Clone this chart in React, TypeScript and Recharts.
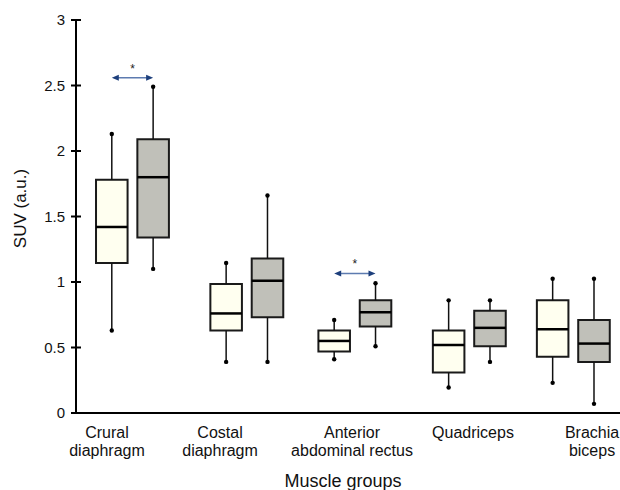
import { ComposedChart, ReferenceArea, ReferenceLine, Scatter, XAxis, YAxis } from "recharts";

// muscle groups, one entry per label line
const muscleGroups = [
  ["Crural", "diaphragm"],
  ["Costal", "diaphragm"],
  ["Anterior", "abdominal rectus"],
  ["Quadriceps"],
  ["Brachia", "biceps"]
];

// light boxes (first series)
const lightMin = [0.63, 0.39, 0.41, 0.195, 0.23];
const lightQ1 = [1.145, 0.63, 0.47, 0.31, 0.43];
const lightMedian = [1.42, 0.76, 0.55, 0.52, 0.64];
const lightQ3 = [1.78, 0.985, 0.63, 0.63, 0.86];
const lightMax = [2.13, 1.145, 0.71, 0.86, 1.025];

// grey boxes (second series)
const greyMin = [1.1, 0.39, 0.51, 0.39, 0.07];
const greyQ1 = [1.34, 0.73, 0.66, 0.51, 0.39];
const greyMedian = [1.8, 1.01, 0.77, 0.65, 0.53];
const greyQ3 = [2.09, 1.18, 0.86, 0.78, 0.71];
const greyMax = [2.49, 1.66, 0.99, 0.86, 1.025];

// significant differences (*), group index and bracket level
const significantGroups = [0, 2];
const significanceLevel = [2.56, 1.065];

const yTicks = [0, 0.5, 1, 1.5, 2, 2.5, 3];

// layout on the numeric x axis (0..5)
const groupCenters = [0.519, 1.57, 2.563, 3.615, 4.571];
const labelCenters = [0.285, 1.324, 2.537, 3.649, 4.743];
const BOX_OFFSET = 0.19;
const BOX_HALF = 0.145;

const series = [
  { name: "light", fill: "#fffff0", min: lightMin, q1: lightQ1, median: lightMedian, q3: lightQ3, max: lightMax, side: -1 },
  { name: "grey", fill: "#c0c0b9", min: greyMin, q1: greyQ1, median: greyMedian, q3: greyQ3, max: greyMax, side: 1 }
];

const whiskerEnds = series.flatMap((s) =>
  groupCenters.flatMap((c, i) => [
    { x: c + s.side * BOX_OFFSET, y: s.min[i] },
    { x: c + s.side * BOX_OFFSET, y: s.max[i] }
  ])
);

const CategoryTick = (props: any) => {
  const { x, y, index } = props;
  const lines = muscleGroups[index] || [];
  return (
    <text x={x} y={y} textAnchor="middle" fontSize={16} fill="#111">
      {lines.map((line, i) => (
        <tspan key={i} x={x} dy={i === 0 ? 25 : 18}>
          {line}
        </tspan>
      ))}
    </text>
  );
};

const DoubleArrow = (props: any) => {
  const { x1, y1, x2, y2 } = props;
  const head = "#1d3f7c";
  return (
    <g>
      <line x1={x1 + 4} y1={y1} x2={x2 - 4} y2={y2} stroke="#5d7bb0" strokeWidth={1.5} />
      <polygon points={`${x1},${y1} ${x1 + 7},${y1 - 3} ${x1 + 7},${y1 + 3}`} fill={head} />
      <polygon points={`${x2},${y2} ${x2 - 7},${y2 - 3} ${x2 - 7},${y2 + 3}`} fill={head} />
    </g>
  );
};

export default function App() {
  return (
    <div style={{ position: "absolute", left: 0, top: 0, fontFamily: '"Liberation Sans", Arial, sans-serif' }}>
      <ComposedChart width={620} height={490} margin={{ top: 20, right: 0, bottom: 0, left: 0 }}>
        <XAxis
          type="number"
          dataKey="x"
          domain={[0, 5]}
          allowDataOverflow
          ticks={labelCenters}
          interval={0}
          tick={<CategoryTick />}
          tickLine={false}
          tickSize={0}
          tickMargin={0}
          height={77}
          axisLine={{ stroke: "#000", strokeWidth: 2 }}
          label={{ value: "Muscle groups", position: "insideBottom", offset: 3, dx: -5, fontSize: 18, fill: "#111" }}
        />
        <YAxis
          type="number"
          dataKey="y"
          domain={[0, 3]}
          ticks={yTicks}
          interval={0}
          width={76}
          tickSize={10}
          tickMargin={1}
          tick={{ fill: "#111", fontSize: 15 }}
          tickLine={{ stroke: "#000", strokeWidth: 2, transform: "translate(5,0)" }}
          axisLine={{ stroke: "#000", strokeWidth: 2 }}
          label={{
            value: "SUV (a.u.)",
            angle: -90,
            position: "insideLeft",
            offset: 20,
            dy: -8,
            fontSize: 17,
            fill: "#111",
            style: { textAnchor: "middle" }
          }}
        />

        {series.map((s) =>
          groupCenters.map((c, i) => {
            const x = c + s.side * BOX_OFFSET;
            return [
              <ReferenceLine
                key={`${s.name}-lo-${i}`}
                segment={[{ x, y: s.min[i] }, { x, y: s.q1[i] }]}
                stroke="#111"
                strokeWidth={1.5}
              />,
              <ReferenceLine
                key={`${s.name}-hi-${i}`}
                segment={[{ x, y: s.q3[i] }, { x, y: s.max[i] }]}
                stroke="#111"
                strokeWidth={1.5}
              />,
              <ReferenceArea
                key={`${s.name}-box-${i}`}
                x1={x - BOX_HALF}
                x2={x + BOX_HALF}
                y1={s.q1[i]}
                y2={s.q3[i]}
                fill={s.fill}
                fillOpacity={1}
                stroke="#1a1a1a"
                strokeWidth={2}
              />,
              <ReferenceLine
                key={`${s.name}-med-${i}`}
                segment={[{ x: x - BOX_HALF, y: s.median[i] }, { x: x + BOX_HALF, y: s.median[i] }]}
                stroke="#000"
                strokeWidth={2.5}
              />
            ];
          })
        )}

        {significantGroups.map((g, k) => (
          <ReferenceLine
            key={`sig-${g}`}
            segment={[
              { x: groupCenters[g] - BOX_OFFSET, y: significanceLevel[k] },
              { x: groupCenters[g] + BOX_OFFSET, y: significanceLevel[k] }
            ]}
            shape={DoubleArrow}
            label={{ value: "*", position: "top", offset: 5, fontSize: 12, fill: "#222" }}
          />
        ))}

        <Scatter
          data={whiskerEnds}
          isAnimationActive={false}
          shape={(p: any) => <circle cx={p.cx} cy={p.cy} r={2.2} fill="#000" />}
        />
      </ComposedChart>
    </div>
  );
}
